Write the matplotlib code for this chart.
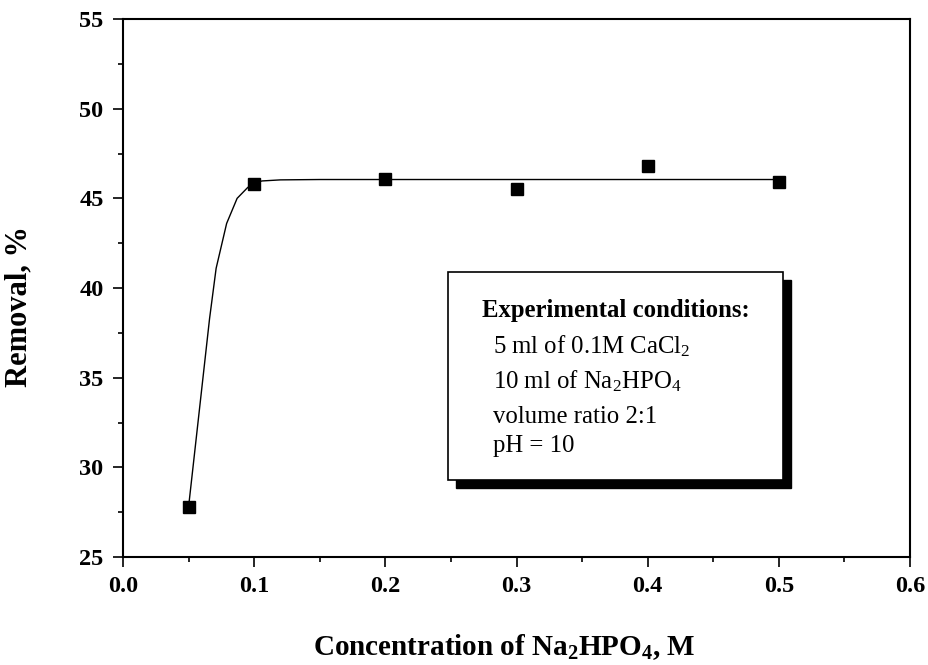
import matplotlib
matplotlib.use("Agg")
import matplotlib.pyplot as plt
from matplotlib.patches import Rectangle
from matplotlib.ticker import MultipleLocator

# measured points
conc = [0.05, 0.1, 0.2, 0.3, 0.4, 0.5]
removal = [27.8, 45.8, 46.1, 45.5, 46.8, 45.9]

# fitted curve
curve_x = [0.05, 0.066, 0.071, 0.079, 0.087, 0.095, 0.1, 0.106, 0.12, 0.15, 0.2, 0.3, 0.4, 0.5]
curve_y = [27.8, 38.3, 41.1, 43.6, 45.0, 45.6, 45.86, 45.97, 46.03, 46.05, 46.05, 46.05, 46.05, 46.05]

plt.rcParams['font.family'] = ['Liberation Serif', 'DejaVu Serif']
plt.rcParams['mathtext.default'] = 'regular'

fig = plt.figure(figsize=(9.29, 6.65), dpi=100)
ax = fig.add_axes([0.1324, 0.1624, 0.8472, 0.809])

ax.plot(curve_x, curve_y, color='black', lw=1.0)
ax.plot(conc, removal, 's', color='black', markersize=8.5, linestyle='none')

ax.set_xlim(0.0, 0.6)
ax.set_ylim(25, 55)
ax.xaxis.set_major_locator(MultipleLocator(0.1))
ax.xaxis.set_minor_locator(MultipleLocator(0.05))
ax.yaxis.set_major_locator(MultipleLocator(5))
ax.yaxis.set_minor_locator(MultipleLocator(2.5))
ax.tick_params(which='major', direction='out', length=7, width=1.2, labelsize=17.5, pad=7)
ax.tick_params(which='minor', direction='out', length=3.5, width=1.2)
ax.tick_params(top=False, right=False)
for lab in ax.get_xticklabels() + ax.get_yticklabels():
    lab.set_fontweight('bold')
for sp in ax.spines.values():
    sp.set_linewidth(1.5)

ax.set_xlabel('Concentration of Na$_2$HPO$_4$, M', fontsize=21, fontweight='bold')
ax.set_ylabel('Removal, %', fontsize=22, fontweight='bold')
ax.xaxis.set_label_coords(0.484, -0.14)
ax.yaxis.set_label_coords(-0.114, 0.465)

# conditions box with shadow
bx, by, bw, bh = 0.413, 0.143, 0.4256, 0.3866
ax.add_patch(Rectangle((bx + 0.0102, by - 0.0149), bw, bh, transform=ax.transAxes,
                       facecolor='black', edgecolor='black', zorder=4))
ax.add_patch(Rectangle((bx, by), bw, bh, transform=ax.transAxes,
                       facecolor='white', edgecolor='black', lw=1.2, zorder=5))

ax.text(0.456, 0.446, 'Experimental conditions:', transform=ax.transAxes,
        fontsize=17.8, fontweight='bold', zorder=6)
lines = ['5 ml of 0.1M CaCl$_2$', '10 ml of Na$_2$HPO$_4$', 'volume ratio 2:1', 'pH = 10']
ys = [0.379, 0.314, 0.249, 0.195]
for t, y in zip(lines, ys):
    ax.text(0.47, y, t, transform=ax.transAxes, fontsize=17.8, zorder=6)

fig.savefig('out.png', dpi=100)
